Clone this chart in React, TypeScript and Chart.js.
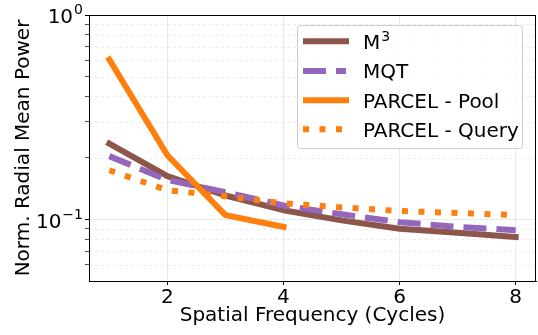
import React, { useEffect, useRef } from "react";
import { Chart, registerables } from "chart.js";

Chart.register(...registerables);

const frequencies = [1, 2, 3, 4, 5, 6, 7, 8];
const m3Values = [0.235, 0.163, 0.131, 0.111, 0.099, 0.09, 0.086, 0.082];
const mqtValues = [0.204, 0.156, 0.136, 0.117, 0.106, 0.097, 0.092, 0.0886];
const poolFrequencies = [1, 2, 3, 4];
const poolValues = [0.605, 0.206, 0.105, 0.092];
const queryValues = [0.174, 0.139, 0.13, 0.12, 0.1145, 0.11, 0.1076, 0.105];
const seriesLabels = ["M³", "MQT", "PARCEL - Pool", "PARCEL - Query"];
const seriesColors = ["#8c564b", "#9467bd", "#ff7f0e", "#ff7f0e"];
const xTicks = [2, 4, 6, 8];
const yTickValues = [0.06, 0.07, 0.08, 0.09, 0.1, 0.2, 0.3, 0.4, 0.5, 0.6, 0.7, 0.8, 0.9, 1];
const yMajorTicks = [0.1, 1];
const yTickExponents = ["−1", "0"];
const xTitle = "Spatial Frequency (Cycles)";
const yTitle = "Norm. Radial Mean Power";

const FONT = "'DejaVu Sans', sans-serif";
const FS = 20;

const toPoints = (xs: number[], ys: number[]) => xs.map((x, i) => ({ x, y: ys[i] }));

const isMajor = (v: number) => yMajorTicks.some((m) => Math.abs(m - v) < 1e-9);

const framePlugin = {
  id: "frame",
  beforeDatasetsDraw(chart: any) {
    const { ctx, chartArea } = chart;
    const y = chart.scales.y;
    ctx.save();
    ctx.strokeStyle = "rgba(176,176,176,0.3)";
    ctx.lineWidth = 0.8;
    ctx.setLineDash([3, 3]);
    yTickValues.forEach((v) => {
      if (isMajor(v)) return;
      const py = Math.round(y.getPixelForValue(v)) + 0.5;
      ctx.beginPath();
      ctx.moveTo(chartArea.left, py);
      ctx.lineTo(chartArea.right, py);
      ctx.stroke();
    });
    ctx.restore();
  },
  afterDatasetsDraw(chart: any) {
    const { ctx, chartArea } = chart;
    const yScale = chart.scales.y;
    ctx.save();
    // y tick labels with superscript exponents
    ctx.fillStyle = "#000";
    ctx.textBaseline = "alphabetic";
    ctx.textAlign = "left";
    yMajorTicks.forEach((v, i) => {
      const py = yScale.getPixelForValue(v);
      const baseY = py + 8.2;
      ctx.font = `${FS}px ${FONT}`;
      const wBase = ctx.measureText("10").width;
      ctx.font = `${FS * 0.7}px ${FONT}`;
      const wExp = ctx.measureText(yTickExponents[i]).width;
      const right = 83;
      const startX = right - wExp - wBase - 1;
      ctx.font = `${FS}px ${FONT}`;
      ctx.fillText("10", startX, baseY);
      ctx.font = `${FS * 0.7}px ${FONT}`;
      ctx.fillText(yTickExponents[i], startX + wBase + 1, baseY - 8.8);
    });
    // spines
    ctx.strokeStyle = "#000";
    ctx.lineWidth = 1;
    ctx.setLineDash([]);
    ctx.strokeRect(
      Math.round(chartArea.left) + 0.5,
      Math.round(chartArea.top) + 0.5,
      Math.round(chartArea.right - chartArea.left) - 1,
      Math.round(chartArea.bottom - chartArea.top)
    );
    // legend
    const bx = 297.5, by = 25.5, bw = 225, bh = 123, r = 3;
    ctx.beginPath();
    ctx.moveTo(bx + r, by);
    ctx.lineTo(bx + bw - r, by);
    ctx.quadraticCurveTo(bx + bw, by, bx + bw, by + r);
    ctx.lineTo(bx + bw, by + bh - r);
    ctx.quadraticCurveTo(bx + bw, by + bh, bx + bw - r, by + bh);
    ctx.lineTo(bx + r, by + bh);
    ctx.quadraticCurveTo(bx, by + bh, bx, by + bh - r);
    ctx.lineTo(bx, by + r);
    ctx.quadraticCurveTo(bx, by, bx + r, by);
    ctx.closePath();
    ctx.fillStyle = "rgba(255,255,255,0.8)";
    ctx.fill();
    ctx.strokeStyle = "#cccccc";
    ctx.lineWidth = 1;
    ctx.stroke();

    const rowY = [41.3, 71, 100.3, 129.3];
    chart.data.datasets.forEach((ds: any, i: number) => {
      const cy = rowY[i];
      ctx.save();
      ctx.strokeStyle = ds.borderColor;
      ctx.lineWidth = ds.borderWidth;
      const dash = ds.borderDash || [];
      ctx.setLineDash(dash);
      ctx.lineCap = dash.length ? "butt" : "square";
      ctx.beginPath();
      if (dash.length) {
        ctx.moveTo(303, cy);
        ctx.lineTo(i === 1 ? 346 : 349, cy);
      } else {
        ctx.moveTo(306, cy);
        ctx.lineTo(346, cy);
      }
      ctx.stroke();
      ctx.restore();

      ctx.fillStyle = "#000";
      ctx.textBaseline = "alphabetic";
      ctx.textAlign = "left";
      const baseY = cy + 7.3;
      const label: string = ds.label;
      if (label.includes("³")) {
        const base = label.replace("³", "");
        ctx.font = `${FS}px ${FONT}`;
        ctx.fillText(base, 363, baseY);
        const w = ctx.measureText(base).width;
        ctx.font = `${FS * 0.7}px ${FONT}`;
        ctx.fillText("3", 363 + w + 1, baseY - 8);
      } else {
        ctx.font = `${FS}px ${FONT}`;
        ctx.fillText(label, 363, baseY);
      }
    });
    ctx.restore();
  },
};

export default function App() {
  const canvasRef = useRef<HTMLCanvasElement | null>(null);

  useEffect(() => {
    document.body.style.margin = "0";
    const canvas = canvasRef.current;
    if (!canvas) return;
    const lineBase = {
      pointRadius: 0,
      borderWidth: 6,
      tension: 0,
      fill: false,
      borderJoinStyle: "round" as const,
    };
    const chart = new Chart(canvas, {
      type: "line",
      data: {
        datasets: [
          {
            ...lineBase,
            label: seriesLabels[0],
            data: toPoints(frequencies, m3Values),
            borderColor: seriesColors[0],
            backgroundColor: seriesColors[0],
            borderCapStyle: "square",
            order: 3,
          },
          {
            ...lineBase,
            label: seriesLabels[1],
            data: toPoints(frequencies, mqtValues),
            borderColor: seriesColors[1],
            backgroundColor: seriesColors[1],
            borderDash: [23, 10],
            borderCapStyle: "butt",
            order: 2,
          },
          {
            ...lineBase,
            label: seriesLabels[2],
            data: toPoints(poolFrequencies, poolValues),
            borderColor: seriesColors[2],
            backgroundColor: seriesColors[2],
            borderCapStyle: "square",
            order: 1,
          },
          {
            ...lineBase,
            label: seriesLabels[3],
            data: toPoints(frequencies, queryValues),
            borderColor: seriesColors[3],
            backgroundColor: seriesColors[3],
            borderDash: [6, 10.5],
            borderCapStyle: "butt",
            order: 0,
          },
        ],
      },
      options: {
        responsive: false,
        maintainAspectRatio: false,
        animation: false,
        layout: { padding: { left: 0, right: 2, top: 15, bottom: 0 } },
        plugins: {
          legend: { display: false },
          tooltip: { enabled: false },
        },
        scales: {
          x: {
            type: "linear",
            min: 0.65,
            max: 8.35,
            afterBuildTicks: (s: any) => {
              s.ticks = xTicks.map((v) => ({ value: v }));
            },
            afterFit: (s: any) => {
              s.height = 54;
            },
            ticks: {
              font: { family: FONT, size: FS },
              color: "#000",
              padding: 1,
              maxRotation: 0,
              autoSkip: false,
            },
            grid: {
              color: "rgba(176,176,176,0.35)",
              lineWidth: 0.8,
              tickColor: "#000",
              tickLength: 4,
              tickWidth: 1,
            },
            border: { color: "#000", width: 1 },
            title: {
              display: true,
              text: xTitle,
              color: "#000",
              font: { family: FONT, size: FS },
              padding: { top: 0, bottom: 7 },
            },
          },
          y: {
            type: "logarithmic",
            min: 0.05,
            max: 1,
            afterBuildTicks: (s: any) => {
              s.ticks = yTickValues.map((v) => ({ value: v, major: isMajor(v) }));
            },
            afterFit: (s: any) => {
              s.width = 89;
            },
            ticks: {
              font: { family: FONT, size: FS },
              color: "#000",
              padding: 3,
              autoSkip: false,
              callback: () => "",
            },
            grid: {
              color: (c: any) =>
                c.tick && isMajor(c.tick.value) ? "rgba(176,176,176,0.35)" : "rgba(0,0,0,0)",
              lineWidth: 0.8,
              tickColor: "#000",
              tickLength: 4,
              tickWidth: (c: any) => (c.tick && isMajor(c.tick.value) ? 1 : 0.7),
            },
            border: { color: "#000", width: 1 },
            title: {
              display: true,
              text: yTitle,
              color: "#000",
              font: { family: FONT, size: FS },
              padding: { top: 12, bottom: 0 },
            },
          },
        },
      },
      plugins: [framePlugin],
    });
    return () => chart.destroy();
  }, []);

  return (
    <div style={{ width: 538, height: 335, position: "relative" }}>
      <canvas ref={canvasRef} width={538} height={335} style={{ width: 538, height: 335 }} />
    </div>
  );
}
